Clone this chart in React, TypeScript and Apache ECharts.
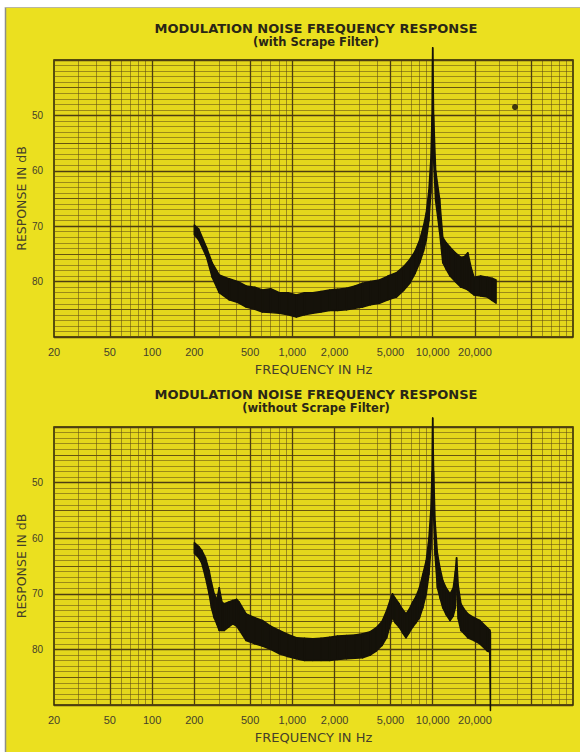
import React, { useEffect, useRef } from "react";
import * as echarts from "echarts";

// ---------- tick / grid values ----------
const xLabelValues = [20, 50, 100, 200, 500, 1000, 2000, 5000, 10000, 20000];
const xBoldLines = [50, 100, 200, 500, 1000, 2000, 5000, 10000, 20000, 50000];
const xThinLines = [30, 40, 60, 70, 80, 90, 300, 400, 600, 700, 800, 900, 3000, 4000, 6000, 7000, 8000, 9000, 30000, 40000, 60000, 70000, 80000, 90000];
const yLabelValues = [50, 60, 70, 80];

// ---------- top chart (with Scrape Filter): band of the noisy trace ----------
const topFreq = [200, 215, 244, 268, 301, 355, 410, 468, 540, 611, 700, 808, 930, 1068, 1220, 1397, 1600, 1843, 2100, 2431, 2800, 3164, 3600, 4177, 4800, 5513, 6200, 6870, 7500, 8080, 8600, 9000, 9400, 9700, 9900, 10000, 10150, 10500, 11200, 11800, 12500, 13300, 14500, 15900, 16800, 17800, 18800, 19700, 22000, 24500, 26500, 28300];
const topUpper = [69.8, 70.5, 73.8, 76.6, 78.8, 79.5, 80.0, 80.8, 81.0, 81.5, 81.3, 82.0, 82.0, 82.4, 82.0, 82.0, 81.8, 81.5, 81.4, 81.2, 80.8, 80.3, 80.0, 79.7, 79.0, 78.4, 77.3, 76.0, 74.5, 72.5, 70.0, 67.6, 63.5, 58.0, 50.0, 37.8, 50.0, 60.0, 65.0, 72.0, 73.0, 73.8, 74.8, 75.6, 75.5, 74.8, 77.5, 79.2, 79.0, 79.2, 79.4, 79.7];
const topLower = [71.5, 72.5, 75.5, 79.2, 82.0, 83.3, 83.8, 84.6, 85.0, 85.5, 85.6, 85.7, 86.0, 86.4, 86.0, 85.7, 85.5, 85.2, 85.2, 85.1, 84.8, 84.6, 84.2, 83.9, 83.3, 82.8, 81.6, 80.3, 78.5, 76.6, 74.5, 72.5, 69.0, 64.0, 58.0, 46.0, 58.0, 65.5, 71.0, 76.6, 77.8, 79.0, 80.0, 81.0, 81.2, 81.5, 82.0, 82.4, 82.6, 82.8, 83.4, 83.9];
const topMark = [[38600, 48.5]];

// ---------- bottom chart (without Scrape Filter) ----------
const botFreq = [200, 215, 226, 240, 255, 265, 277, 290, 301, 315, 327, 350, 376, 400, 418, 468, 540, 611, 700, 808, 930, 1068, 1220, 1397, 1600, 1843, 2100, 2431, 2800, 3164, 3600, 3960, 4350, 4700, 5000, 5170, 5400, 5770, 6100, 6450, 6800, 7200, 7600, 8050, 8500, 9000, 9400, 9700, 9900, 10000, 10150, 10400, 10800, 11300, 11800, 12500, 13300, 14000, 14500, 14800, 15200, 15900, 16800, 17800, 19700, 21700, 24500, 25500, 25800];
const botUpper = [60.8, 61.5, 62.2, 63.5, 65.8, 68.0, 70.0, 71.0, 68.9, 71.5, 71.8, 71.5, 71.2, 71.0, 71.5, 73.6, 74.3, 74.8, 75.8, 76.6, 77.3, 77.9, 78.0, 78.1, 78.0, 77.8, 77.6, 77.5, 77.4, 77.2, 76.8, 76.1, 75.0, 73.0, 71.0, 70.0, 70.8, 71.8, 72.8, 73.6, 72.8, 71.5, 70.5, 68.9, 66.5, 64.0, 60.0, 55.0, 48.0, 38.4, 48.0, 57.0, 62.7, 65.5, 67.6, 69.0, 70.0, 69.0, 66.0, 63.5, 68.5, 71.8, 72.8, 73.6, 74.3, 74.8, 76.1, 76.5, 77.0];
const botLower = [62.7, 63.5, 64.5, 67.0, 70.0, 72.5, 74.3, 75.5, 76.6, 76.6, 76.6, 76.0, 75.4, 75.8, 76.5, 78.4, 79.0, 79.4, 80.0, 80.8, 81.3, 81.7, 82.0, 82.0, 82.0, 82.0, 81.8, 81.7, 81.6, 81.5, 81.0, 80.3, 79.3, 77.9, 75.5, 74.3, 75.2, 76.0, 77.0, 77.9, 77.0, 76.0, 75.2, 74.3, 72.5, 70.0, 66.5, 62.0, 56.0, 45.0, 56.0, 63.0, 68.9, 70.8, 72.5, 73.8, 74.8, 74.0, 72.5, 68.0, 74.5, 76.6, 77.2, 77.9, 78.4, 79.0, 80.3, 80.5, 91.0];

const INK = "#15120a";
const PAPER = "#ebe01f";
const PLOT = "#e4d71c";
const BOLD = "#4d3d12";
const MID = "rgba(85,65,15,0.75)";
const THIN = "rgba(95,75,20,0.55)";
const LABEL = "#45402a";
const FONT = "'Liberation Sans', Arial, sans-serif";
const FONT2 = "'DejaVu Sans', sans-serif";

const fmt = (v: number) => String(Math.round(v)).replace(/\B(?=(\d{3})+(?!\d))/g, ",");

function makeX(gridIndex: number, kind: "thin" | "main") {
  const base: any = {
    type: "log",
    logBase: 10,
    gridIndex,
    min: 20,
    max: 100000,
    position: "bottom",
    axisLine: { show: false },
  };
  if (kind === "thin") {
    return {
      ...base,
      z: 0,
      axisTick: { show: false, customValues: xThinLines },
      axisLabel: { show: false },
      splitLine: { show: true, lineStyle: { color: THIN, width: 1 } },
    };
  }
  return {
    ...base,
    z: 1,
    axisTick: { show: false, customValues: xBoldLines },
    axisLabel: {
      customValues: xLabelValues,
      formatter: (v: number) => fmt(v),
      fontSize: 11,
      fontFamily: FONT,
      color: LABEL,
      margin: 9,
    },
    splitLine: { show: true, lineStyle: { color: BOLD, width: 1.3 } },
    name: "FREQUENCY IN Hz",
    nameLocation: "middle",
    nameGap: 26,
    nameMoveOverlap: false,
    nameTextStyle: { fontSize: 13, fontFamily: FONT2, color: LABEL },
  };
}

function makeY(gridIndex: number, kind: "thin" | "mid" | "main") {
  const base: any = {
    type: "value",
    gridIndex,
    position: "left",
    min: 40,
    max: 90,
    inverse: true,
    axisLine: { show: false },
    axisTick: { show: false },
  };
  if (kind === "thin") {
    return { ...base, z: 0, interval: 1, axisLabel: { show: false }, splitLine: { show: true, lineStyle: { color: THIN, width: 1 } } };
  }
  if (kind === "mid") {
    return { ...base, z: 0, interval: 5, axisLabel: { show: false }, splitLine: { show: true, lineStyle: { color: MID, width: 1 } } };
  }
  return {
    ...base,
    z: 1,
    interval: 10,
    axisLabel: { customValues: yLabelValues, fontSize: 10, fontFamily: FONT, color: LABEL, margin: 11 },
    splitLine: { show: true, lineStyle: { color: BOLD, width: 1.3 } },
    name: "RESPONSE IN dB",
    nameLocation: "middle",
    nameGap: 26,
    nameRotate: 90,
    nameMoveOverlap: false,
    nameTextStyle: { fontSize: 12.5, fontFamily: FONT2, color: LABEL },
  };
}

// noisy trace drawn as a filled band between its upper and lower envelope
function band(name: string, xi: number, yi: number, freq: number[], upper: number[], lower: number[]) {
  return {
    type: "custom",
    name,
    xAxisIndex: xi,
    yAxisIndex: yi,
    data: freq.map((f, i) => [f, upper[i], lower[i]]),
    encode: { x: 0, y: [1, 2] },
    clip: false,
    silent: true,
    z: 5,
    renderItem: (params: any, api: any) => {
      const i = params.dataIndexInside;
      if (i === 0) return null;
      const f0 = api.value(0, i - 1);
      const u0 = api.value(1, i - 1);
      const l0 = api.value(2, i - 1);
      const f1 = api.value(0, i);
      const u1 = api.value(1, i);
      const l1 = api.value(2, i);
      const pts = [api.coord([f0, u0]), api.coord([f1, u1]), api.coord([f1, l1]), api.coord([f0, l0])];
      return {
        type: "polygon",
        shape: { points: pts },
        style: { fill: INK, stroke: INK, lineWidth: 1.5, lineJoin: "round" },
      };
    },
  };
}

export default function App() {
  const ref = useRef<HTMLDivElement>(null);
  useEffect(() => {
    if (!ref.current) return;
    const chart = echarts.init(ref.current, undefined, { renderer: "svg" });
    const gridCommon = {
      left: 54,
      width: 519,
      show: true,
      containLabel: false,
      outerBoundsMode: "none",
      backgroundColor: PLOT,
      borderColor: "#2a2108",
      borderWidth: 1.5,
    };
    const title = (y: number, text: string, size: number) => ({
      type: "text",
      x: 316,
      y,
      silent: true,
      style: {
        text,
        align: "center",
        verticalAlign: "middle",
        font: "bold " + size + "px 'DejaVu Sans', sans-serif",
        fill: "#2a2616",
      },
    });
    // axis order: x: [thin0, main0, thin1, main1]; y: [thin0, mid0, main0, thin1, mid1, main1]
    const option: any = {
      animation: false,
      backgroundColor: PAPER,
      grid: [
        { ...gridCommon, top: 60, height: 277 },
        { ...gridCommon, top: 427, height: 278 },
      ],
      xAxis: [makeX(0, "thin"), makeX(0, "main"), makeX(1, "thin"), makeX(1, "main")],
      yAxis: [makeY(0, "thin"), makeY(0, "mid"), makeY(0, "main"), makeY(1, "thin"), makeY(1, "mid"), makeY(1, "main")],
      series: [
        band("with Scrape Filter", 1, 2, topFreq, topUpper, topLower),
        band("without Scrape Filter", 3, 5, botFreq, botUpper, botLower),
        {
          type: "scatter",
          xAxisIndex: 1,
          yAxisIndex: 2,
          data: topMark,
          symbolSize: 6,
          silent: true,
          z: 5,
          itemStyle: { color: INK },
        },
      ],
      graphic: [
        { type: "rect", shape: { x: 0, y: 0, width: 580, height: 7 }, style: { fill: "#ffffff" }, silent: true },
        { type: "rect", shape: { x: 0, y: 0, width: 5, height: 752 }, style: { fill: "#ffffff" }, silent: true },
        { type: "line", shape: { x1: 5.5, y1: 7, x2: 5.5, y2: 752 }, style: { stroke: "#8e8e86", lineWidth: 1.5 }, silent: true },
        { type: "line", shape: { x1: 5, y1: 7.5, x2: 580, y2: 7.5 }, style: { stroke: "#b9b6a0", lineWidth: 1 }, silent: true },
        title(28.5, "MODULATION NOISE FREQUENCY RESPONSE", 13),
        title(42, "(with Scrape Filter)", 11.5),
        title(394.5, "MODULATION NOISE FREQUENCY RESPONSE", 13),
        title(408, "(without Scrape Filter)", 11.5),
      ],
    };
    chart.setOption(option);
    return () => chart.dispose();
  }, []);
  return (
    <div
      ref={ref}
      style={{ position: "absolute", left: 0, top: 0, width: 580, height: 752 }}
    />
  );
}
